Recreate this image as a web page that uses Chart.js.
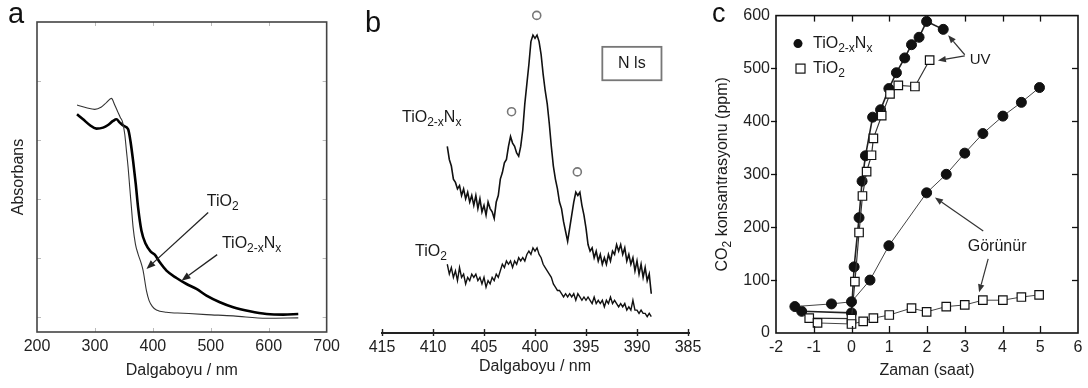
<!DOCTYPE html>
<html><head><meta charset="utf-8">
<script src="https://cdn.jsdelivr.net/npm/chart.js@4.4.1/dist/chart.umd.min.js"></script>
<style>
html,body{margin:0;padding:0;background:#fff;}
#wrap{position:relative;width:1088px;height:388px;overflow:hidden;background:#fff;}
canvas{position:absolute;top:0;}
</style></head><body>
<div id="wrap">
<canvas id="ca" width="345" height="388" style="left:0;width:345px;height:388px"></canvas>
<canvas id="cb" width="375" height="388" style="left:345px;width:375px;height:388px"></canvas>
<canvas id="cc" width="388" height="388" style="left:700px;width:388px;height:388px"></canvas>
</div>
<script>
// ---------- Panel a : UV-Vis absorbance ----------
const uvWaveN = [269.1,279.5,291.0,302.5,314.1,322.7,331.3,337.1,342.9,349.8,357.3,361.3,365.9,370.5,374.5,380.3,387.8,395.9,403.3,412.0,423.5,440.8,458.1,475.3,492.6,515.7,538.7,567.5,596.3,625.1,651.0];
const uvAbsN  = [3.437,3.352,3.256,3.194,3.211,3.256,3.324,3.352,3.296,3.239,3.183,2.986,2.648,2.254,1.859,1.465,1.239,1.115,1.059,0.930,0.789,0.665,0.563,0.479,0.366,0.254,0.169,0.101,0.056,0.045,0.056];
const uvWaveT = [269.1,285.3,299.7,311.2,319.8,328.5,334.2,340.0,344.0,347.5,351.5,354.4,357.3,360.1,363.0,365.9,369.9,374.5,380.3,383.2,388.9,393.5,399.3,406.2,423.5,452.3,492.6,538.7,596.3,651.0];
const uvAbsT  = [3.594,3.549,3.521,3.561,3.634,3.707,3.594,3.465,3.380,3.313,3.099,2.817,2.535,2.197,1.859,1.521,1.239,1.070,0.901,0.789,0.451,0.282,0.180,0.124,0.085,0.068,0.045,0.023,-0.017,-0.011];

// ---------- Panel b : XPS N 1s ----------
const xpsEnergy = [408.6,408.4,408.2,408.0,407.8,407.6,407.4,407.2,407.0,406.8,
406.6,406.4,406.2,406.0,405.8,405.6,405.4,405.2,405.0,404.8,
404.6,404.4,404.2,404.0,403.8,403.6,403.4,403.2,403.0,402.8,
402.6,402.4,402.2,402.0,401.8,401.6,401.4,401.2,401.0,400.8,
400.6,400.4,400.2,400.0,399.8,399.6,399.4,399.2,399.0,398.8,
398.6,398.4,398.2,398.0,397.8,397.6,397.4,397.2,397.0,396.8,
396.6,396.4,396.2,396.0,395.8,395.6,395.4,395.2,395.0,394.8,
394.6,394.4,394.2,394.0,393.8,393.6,393.4,393.2,393.0,392.8,
392.6,392.4,392.2,392.0,391.8,391.6,391.4,391.2,391.0,390.8,
390.6,390.4,390.2,390.0,389.8,389.6,389.4,389.2,389.0,388.8,
388.6];
const xpsN = [57,53,51,47,46,44,45,42,44,41,
43,40,42,39,42,38,41,37,39,36,
40,38,37,35,40,42,47,49,52,53,
57,60,58,57,55,54,57,62,70,76,
82,89,91,90,91,89,85,79,74,70,
64,57,51,47,44,40,38,34,31,28,
32,36,40,43,42,43,39,36,32,27,
25,26,23,25,22,24,21,23,21,24,
22,25,24,27,25,27,24,26,22,24,
21,23,19,22,18,21,17,20,16,18,
12];
const xpsT = [21,18,20,17,19,16,20,17,18,15,
17,16,18,17,18,16,17,15,17,14,
16,15,17,16,18,17,19,21,20,22,
21,22,20,22,21,23,22,23,22,24,
25,24,26,25,26,24,23,21,20,19,
18,17,15,14,13,13,12,11,12,11,
12,11,12,10,12,11,10,11,10,11,
10,9,11,9,10,9,10,8,10,9,
11,9,10,9,8,9,8,9,7,8,
7,10,7,7,6,7,6,6,5,6,
5];
const xpsPeakE = [402.3,399.83,395.85];
const xpsPeakI = [67.6,97,49.2];

// ---------- Panel c : CO2 evolution ----------
const timeVisN = [-1.5,-0.53,0,0.49,0.99,1.99,2.51,3.0,3.48,4.01,4.5,4.98];
const co2VisN  = [50,55,59,100,165,265,300,340,377,410,436,464];
const timeUvN  = [-1.32,0,0.07,0.2,0.28,0.37,0.56,0.77,0.99,1.19,1.41,1.59,1.79,1.99,2.43];
const co2UvN   = [41,38,125,218,287,335,408,422,462,492,520,545,559,589,574];
const timeUvT  = [-1.12,0,0.09,0.2,0.29,0.4,0.53,0.58,0.8,1.02,1.24,1.68,2.07];
const co2UvT   = [28,27,97,190,259,305,336,368,411,452,468,466,516];
const timeVisT = [-0.9,0,0.31,0.58,1.0,1.59,1.99,2.51,3.0,3.48,4.01,4.5,4.97];
const co2VisT  = [19,17,22,28,34,47,40,50,53,62,62,68,72];

// ---------- helpers ----------
const FONT = '"Liberation Sans", Arial, Helvetica, sans-serif';
Chart.defaults.font.family = FONT;
Chart.defaults.font.size = 16;
Chart.defaults.color = '#222';

const pts = (xs, ys) => xs.map((x, i) => ({x: x, y: ys[i]}));
const setFont = (ctx, size) => { ctx.font = size + 'px ' + FONT; };
const S_TIO2 = [['TiO', 0], ['2', 1]];
const S_TIO2N = [['TiO', 0], ['2-x', 1], ['N', 0], ['x', 1]];

function drawRich(ctx, x, y, segs, size, align) {
  ctx.save();
  ctx.fillStyle = '#1a1a1a'; ctx.textBaseline = 'middle'; ctx.textAlign = 'left';
  const sub = Math.round(size * 0.72);
  const w = segs.map(s => { setFont(ctx, s[1] ? sub : size); return ctx.measureText(s[0]).width; });
  const tot = w.reduce((a, b) => a + b, 0);
  let cx = align === 'center' ? x - tot / 2 : (align === 'right' ? x - tot : x);
  segs.forEach((s, i) => { setFont(ctx, s[1] ? sub : size); ctx.fillText(s[0], cx, s[1] ? y + size * 0.32 : y); cx += w[i]; });
  ctx.restore();
}
function arrow(ctx, x1, y1, x2, y2, color, lw, hl, hw) {
  ctx.save();
  ctx.strokeStyle = color; ctx.fillStyle = color; ctx.lineWidth = lw;
  const a = Math.atan2(y2 - y1, x2 - x1);
  const bx = x2 - hl * Math.cos(a), by = y2 - hl * Math.sin(a);
  ctx.beginPath(); ctx.moveTo(x1, y1); ctx.lineTo(bx, by); ctx.stroke();
  ctx.beginPath(); ctx.moveTo(x2, y2);
  ctx.lineTo(bx + hw * Math.sin(a), by - hw * Math.cos(a));
  ctx.lineTo(bx - hw * Math.sin(a), by + hw * Math.cos(a));
  ctx.closePath(); ctx.fill();
  ctx.restore();
}
function seg(ctx, x1, y1, x2, y2) { ctx.beginPath(); ctx.moveTo(x1, y1); ctx.lineTo(x2, y2); ctx.stroke(); }
function letter(ctx, t, x, y, size) {
  ctx.save(); setFont(ctx, size); ctx.fillStyle = '#111'; ctx.textBaseline = 'alphabetic'; ctx.textAlign = 'left';
  ctx.fillText(t, x, y); ctx.restore();
}
const baseOpts = {
  responsive: false, animation: false, devicePixelRatio: 1,
  plugins: {legend: {display: false}, tooltip: {enabled: false}},
  events: []
};

// ---------- Chart a ----------
const annoA = {
  tio2Text: [493.2, 1.955], tio2Arrow: [495.5, 1.775, 389.0, 0.818],
  nText: [519.2, 1.246], nArrow: [511.0, 1.06, 449.5, 0.62]
};
const plugA = {
  id: 'plugA',
  afterDraw(chart) {
    const {ctx, chartArea: ca, scales: {x, y}} = chart;
    ctx.save();
    ctx.strokeStyle = '#bbb'; ctx.lineWidth = 1;
    x.ticks.forEach(t => { if (t.value <= x.min || t.value >= x.max) return;
      const p = Math.round(x.getPixelForValue(t.value)) + 0.5;
      seg(ctx, p, ca.bottom, p, ca.bottom - 4); seg(ctx, p, ca.top, p, ca.top + 4); });
    y.ticks.forEach(t => { if (t.value <= y.min || t.value >= y.max) return;
      const p = Math.round(y.getPixelForValue(t.value)) + 0.5;
      seg(ctx, ca.left, p, ca.left + 4, p); seg(ctx, ca.right, p, ca.right - 4, p); });
    ctx.strokeStyle = '#444'; ctx.lineWidth = 1.6;
    ctx.strokeRect(ca.left, ca.top, ca.right - ca.left, ca.bottom - ca.top);
    ctx.restore();
    const X = v => x.getPixelForValue(v), Y = v => y.getPixelForValue(v);
    drawRich(ctx, X(annoA.tio2Text[0]), Y(annoA.tio2Text[1]), S_TIO2, 16, 'left');
    drawRich(ctx, X(annoA.nText[0]), Y(annoA.nText[1]), S_TIO2N, 16, 'left');
    let a = annoA.tio2Arrow; arrow(ctx, X(a[0]), Y(a[1]), X(a[2]), Y(a[3]), '#222', 1.3, 9, 3.5);
    a = annoA.nArrow; arrow(ctx, X(a[0]), Y(a[1]), X(a[2]), Y(a[3]), '#222', 1.3, 9, 3.5);
    letter(ctx, 'a', 8, 23, 29);
  }
};
new Chart(document.getElementById('ca'), {
  type: 'line',
  data: {datasets: [
    {label: 'TiO2', data: pts(uvWaveT, uvAbsT), borderColor: '#333', borderWidth: 1.1, pointRadius: 0, cubicInterpolationMode: 'monotone'},
    {label: 'TiO2-xNx', data: pts(uvWaveN, uvAbsN), borderColor: '#000', borderWidth: 2.6, pointRadius: 0, cubicInterpolationMode: 'monotone'}
  ]},
  options: Object.assign({}, baseOpts, {
    layout: {padding: {left: 0, right: 18, top: 22, bottom: 0}},
    scales: {
      x: {type: 'linear', min: 200, max: 700, ticks: {stepSize: 100, padding: 5, color: '#222'},
          grid: {display: false, drawTicks: false}, border: {display: false},
          title: {display: true, text: 'Dalgaboyu / nm', color: '#222', padding: {top: 0, bottom: 8}},
          afterFit(s) { s.height = 56; }},
      y: {type: 'linear', min: -0.25, max: 5, ticks: {display: false, stepSize: 1, includeBounds: false},
          grid: {display: false, drawTicks: false}, border: {display: false},
          title: {display: true, text: 'Absorbans', color: '#222', padding: {top: 9, bottom: 0}},
          afterFit(s) { s.width = 37; }}
    }
  }),
  plugins: [plugA]
});

// ---------- Chart b ----------
const annoB = {
  nText: [413.04, 65.8], tText: [411.77, 24.9],
  box: [393.4, 87.4, 387.6, 77.2], boxText: 'N ls'
};
const plugB = {
  id: 'plugB',
  afterDraw(chart) {
    const {ctx, chartArea: ca, scales: {x, y}} = chart;
    const X = v => x.getPixelForValue(v), Y = v => y.getPixelForValue(v);
    ctx.save();
    ctx.strokeStyle = '#222'; ctx.lineWidth = 2;
    seg(ctx, ca.left - 1, ca.bottom, ca.right + 2, ca.bottom);
    ctx.lineWidth = 1.4;
    x.ticks.forEach(t => { const p = Math.round(X(t.value)) + 0.5; seg(ctx, p, ca.bottom - 4, p, ca.bottom + 3); });
    const b = annoB.box;
    ctx.strokeStyle = '#777'; ctx.lineWidth = 1.8;
    ctx.strokeRect(X(b[0]), Y(b[1]), X(b[2]) - X(b[0]), Y(b[3]) - Y(b[1]));
    ctx.restore();
    drawRich(ctx, (X(b[0]) + X(b[2])) / 2, (Y(b[1]) + Y(b[3])) / 2, [[annoB.boxText, 0]], 16, 'center');
    drawRich(ctx, X(annoB.nText[0]), Y(annoB.nText[1]), S_TIO2N, 16, 'left');
    drawRich(ctx, X(annoB.tText[0]), Y(annoB.tText[1]), S_TIO2, 16, 'left');
    letter(ctx, 'b', 20, 32, 29);
  }
};
new Chart(document.getElementById('cb'), {
  type: 'line',
  data: {datasets: [
    {label: 'TiO2-xNx', data: pts(xpsEnergy, xpsN), borderColor: '#111', borderWidth: 1.6, pointRadius: 0, tension: 0},
    {label: 'TiO2', data: pts(xpsEnergy, xpsT), borderColor: '#111', borderWidth: 1.4, pointRadius: 0, tension: 0},
    {label: 'peaks', data: pts(xpsPeakE, xpsPeakI), showLine: false, pointRadius: 4, pointBorderWidth: 1.6,
     pointBackgroundColor: '#fff', pointBorderColor: '#777'}
  ]},
  options: Object.assign({}, baseOpts, {
    layout: {padding: {left: 37, right: 32, top: 0, bottom: 0}},
    scales: {
      x: {type: 'linear', reverse: true, min: 385, max: 415, ticks: {stepSize: 5, padding: 5, color: '#222'},
          grid: {display: false, drawTicks: false}, border: {display: false},
          title: {display: true, text: 'Dalgaboyu / nm', color: '#222', padding: {top: 0, bottom: 12}},
          afterFit(s) { s.height = 55; }},
      y: {type: 'linear', display: false, min: 0, max: 100}
    }
  }),
  plugins: [plugB]
});

// ---------- Chart c ----------
const annoC = {
  uvText: [3.13, 516], uvArrow1: [3.0, 526, 2.56, 563], uvArrow2: [3.0, 524, 2.29, 515],
  visText: [3.08, 163], visArrow1: [3.49, 193, 2.21, 256], visArrow2: [3.62, 140, 3.38, 77]
};
const plugC = {
  id: 'plugC',
  afterDraw(chart) {
    const {ctx, chartArea: ca, scales: {x, y}} = chart;
    const X = v => x.getPixelForValue(v), Y = v => y.getPixelForValue(v);
    ctx.save();
    ctx.strokeStyle = '#111'; ctx.lineWidth = 1.3;
    x.ticks.forEach(t => { if (t.value <= x.min || t.value >= x.max) return;
      const p = Math.round(X(t.value)) + 0.5;
      seg(ctx, p, ca.bottom, p, ca.bottom - 7); seg(ctx, p, ca.top, p, ca.top + 6); });
    y.ticks.forEach(t => { if (t.value <= y.min || t.value >= y.max) return;
      const p = Math.round(Y(t.value)) + 0.5;
      seg(ctx, ca.left - 5, p, ca.left + 1, p); seg(ctx, ca.right, p, ca.right - 6, p); });
    ctx.lineWidth = 1.6;
    ctx.strokeRect(ca.left, ca.top, ca.right - ca.left, ca.bottom - ca.top);
    ctx.restore();
    // y title with subscript
    ctx.save(); ctx.translate(23, (ca.top + ca.bottom) / 2); ctx.rotate(-Math.PI / 2);
    drawRich(ctx, 0, 0, [['CO', 0], ['2', 1], [' konsantrasyonu (ppm)', 0]], 16, 'center');
    ctx.restore();
    // legend
    ctx.save();
    ctx.fillStyle = '#111'; ctx.beginPath(); ctx.arc(ca.left + 22, ca.top + 28, 4.5, 0, Math.PI * 2); ctx.fill();
    ctx.strokeStyle = '#111'; ctx.lineWidth = 1.2; ctx.fillStyle = '#fff';
    ctx.fillRect(ca.left + 20, ca.top + 48.5, 9, 9); ctx.strokeRect(ca.left + 20, ca.top + 48.5, 9, 9);
    ctx.restore();
    drawRich(ctx, ca.left + 37, ca.top + 28, S_TIO2N, 16, 'left');
    drawRich(ctx, ca.left + 37, ca.top + 53, S_TIO2, 16, 'left');
    // annotations
    drawRich(ctx, X(annoC.uvText[0]), Y(annoC.uvText[1]), [['UV', 0]], 15, 'left');
    drawRich(ctx, X(annoC.visText[0]), Y(annoC.visText[1]), [['Görünür', 0]], 16, 'left');
    ['uvArrow1', 'uvArrow2', 'visArrow1', 'visArrow2'].forEach(k => {
      const a = annoC[k]; arrow(ctx, X(a[0]), Y(a[1]), X(a[2]), Y(a[3]), '#333', 1.2, 8, 3.2);
    });
    letter(ctx, 'c', 12, 22, 27);
  }
};
const circ = {pointStyle: 'circle', pointRadius: 5, pointBackgroundColor: '#111', pointBorderColor: '#111', pointBorderWidth: 1};
const sq = {pointStyle: 'rect', pointRadius: 6, pointBackgroundColor: '#fff', pointBorderColor: '#111', pointBorderWidth: 1.2};
new Chart(document.getElementById('cc'), {
  type: 'line',
  data: {datasets: [
    Object.assign({label: 'TiO2 Görünür', data: pts(timeVisT, co2VisT), borderColor: '#444', borderWidth: 1, tension: 0}, sq),
    Object.assign({label: 'TiO2-xNx Görünür', data: pts(timeVisN, co2VisN), borderColor: '#444', borderWidth: 1, tension: 0}, circ),
    Object.assign({label: 'TiO2 UV', data: pts(timeUvT, co2UvT), borderColor: '#333', borderWidth: 1.2, tension: 0}, sq),
    Object.assign({label: 'TiO2-xNx UV', data: pts(timeUvN, co2UvN), borderColor: '#222', borderWidth: 1.6, tension: 0}, circ)
  ]},
  options: Object.assign({}, baseOpts, {
    layout: {padding: {left: 0, right: 10, top: 12, bottom: 0}},
    scales: {
      x: {type: 'linear', min: -2, max: 6, ticks: {stepSize: 1, padding: 5, color: '#222'},
          grid: {display: false, drawTicks: false}, border: {display: false},
          title: {display: true, text: 'Zaman (saat)', color: '#222', padding: {top: 0, bottom: 8}},
          afterFit(s) { s.height = 55; }},
      y: {type: 'linear', min: 0, max: 600, ticks: {stepSize: 100, padding: 6, color: '#222'},
          grid: {display: false, drawTicks: false}, border: {display: false},
          afterFit(s) { s.width = 76; }}
    }
  }),
  plugins: [plugC]
});
</script>
</body></html>
